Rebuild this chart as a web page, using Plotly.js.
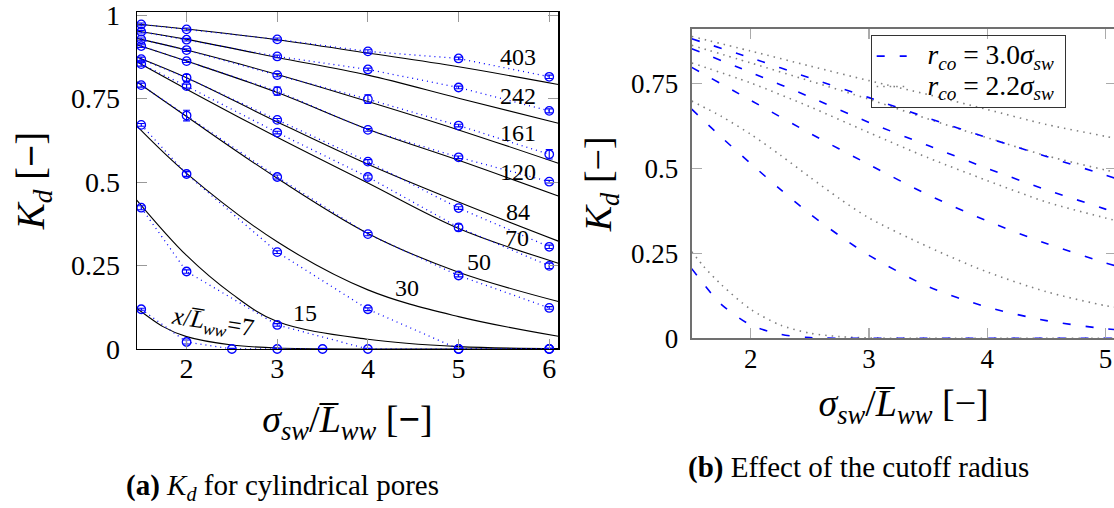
<!DOCTYPE html>
<html>
<head>
<meta charset="utf-8">
<script src="https://cdn.plot.ly/plotly-3.0.1.min.js"></script>
<style>
  html, body { margin: 0; padding: 0; background: #ffffff; overflow: hidden; width: 1114px; height: 508px; }
  #chart { width: 1117px; height: 508px; }
</style>
</head>
<body>
<div id="chart"></div>
<script>
// ---------- Panel (a): K_d for cylindrical pores ----------
const curveLabels = ['403', '242', '161', '120', '84', '70', '50', '30', '15', '7'];

// MD data points (blue circles, dotted)
const sigmaX = [1.5, 2, 3, 4, 5, 6];
const sigmaX7 = [1.5, 2, 2.5, 3, 3.5];
const md403 = [0.972, 0.957, 0.927, 0.891, 0.870, 0.815];
const md242 = [0.950, 0.926, 0.876, 0.837, 0.783, 0.713];
const md161 = [0.927, 0.895, 0.820, 0.748, 0.669, 0.583];
const md120 = [0.907, 0.862, 0.772, 0.656, 0.574, 0.501];
const md84  = [0.868, 0.812, 0.686, 0.561, 0.422, 0.306];
const md70  = [0.853, 0.787, 0.648, 0.515, 0.364, 0.249];
const md50  = [0.790, 0.699, 0.515, 0.344, 0.220, 0.123];
const md30  = [0.671, 0.524, 0.290, 0.119, 0.000, 0.000];
const md15  = [0.423, 0.232, 0.072, 0.000, 0.000, 0.000];
const md7   = [0.119, 0.021, 0.000, 0.000, 0.000];

// error bars of the MD points
const err403 = [0.004, 0.004, 0.004, 0.005, 0.004, 0.005];
const err242 = [0.004, 0.004, 0.004, 0.004, 0.004, 0.006];
const err161 = [0.004, 0.004, 0.005, 0.013, 0.004, 0.014];
const err120 = [0.004, 0.004, 0.012, 0.004, 0.004, 0.004];
const err84  = [0.006, 0.010, 0.004, 0.006, 0.004, 0.005];
const err70  = [0.006, 0.006, 0.004, 0.006, 0.010, 0.008];
const err50  = [0.006, 0.016, 0.006, 0.005, 0.004, 0.004];
const err30  = [0.004, 0.007, 0.004, 0.004, 0.002, 0.002];
const err15  = [0.006, 0.005, 0.004, 0.002, 0.002, 0.002];
const err7   = [0.003, 0.006, 0.002, 0.002, 0.002];

// model curves (black, solid)
const fitX   = [1.45, 2, 3, 4, 5, 6.1];
const fit403 = [0.973, 0.958, 0.926, 0.886, 0.845, 0.792];
const fit242 = [0.952, 0.927, 0.873, 0.820, 0.751, 0.676];
const fit161 = [0.930, 0.895, 0.822, 0.741, 0.656, 0.556];
const fit120 = [0.911, 0.862, 0.768, 0.658, 0.565, 0.458];
const fit84  = [0.874, 0.812, 0.680, 0.553, 0.440, 0.323];
const fit70  = [0.860, 0.778, 0.634, 0.497, 0.361, 0.257];
const fit50  = [0.800, 0.696, 0.511, 0.346, 0.230, 0.142];
const fit30  = [0.668, 0.526, 0.321, 0.177, 0.097, 0.038];
const fitX15 = [1.45, 2, 2.5, 3, 4, 5, 6.1];
const fit15  = [0.446, 0.280, 0.165, 0.082, 0.029, 0.007, 0.001];
const fitX7  = [1.45, 1.74, 2, 2.5, 3, 4, 6.1];
const fit7   = [0.122, 0.067, 0.037, 0.012, 0.003, 0.000, 0.000];

// curve label positions (data coordinates)
const labelX = [5.66, 5.66, 5.66, 5.66, 5.66, 5.64, 5.22, 4.43, 3.31, 2.29];
const labelY = [0.874, 0.758, 0.646, 0.531, 0.411, 0.331, 0.261, 0.182, 0.107, 0.075];

// ---------- Panel (b): effect of the cutoff radius ----------
const cutX = [1.5, 2, 2.5, 3, 3.5, 4, 4.5, 5, 5.1];
const cutXfine = [1.5, 1.75, 2, 2.25, 2.5, 2.75, 3, 3.5, 4, 4.5, 5, 5.1];
// r_co = 3.0 sigma_sw (blue dashed)
const rc30a = [0.881, 0.825, 0.766, 0.708, 0.648, 0.590, 0.535, 0.480, 0.469];
const rc30b = [0.852, 0.782, 0.710, 0.635, 0.567, 0.500, 0.437, 0.380, 0.368];
const rc30c = [0.797, 0.700, 0.603, 0.511, 0.422, 0.345, 0.279, 0.222, 0.212];
const rc30d = [0.674, 0.592, 0.514, 0.438, 0.366, 0.302, 0.244, 0.152, 0.092, 0.052, 0.028, 0.025];
const cutX30e = [1.5, 1.6, 1.75, 2, 2.25, 2.5, 3, 5.1];
const rc30e = [0.205, 0.160, 0.100, 0.039, 0.012, 0.002, 0.000, 0.000];
// r_co = 2.2 sigma_sw (grey dotted)
const rc22a = [0.888, 0.845, 0.801, 0.758, 0.717, 0.673, 0.629, 0.594, 0.587];
const rc22b = [0.862, 0.810, 0.757, 0.703, 0.645, 0.590, 0.537, 0.495, 0.487];
const rc22c = [0.810, 0.751, 0.681, 0.605, 0.531, 0.464, 0.401, 0.354, 0.345];
const rc22d = [0.698, 0.653, 0.600, 0.539, 0.474, 0.411, 0.354, 0.269, 0.195, 0.137, 0.096, 0.091];
const cutX22e = [1.5, 1.6, 1.75, 2, 2.25, 2.5, 2.75, 3, 3.5, 5.1];
const rc22e = [0.255, 0.212, 0.158, 0.085, 0.039, 0.015, 0.005, 0.001, 0.000, 0.000];

const legendNames = ['\u00A0\u00A0\u00A0<span style="font-size:27.5px"><i>r</i><sub><i>co</i></sub> = 3.0<i>σ</i><sub><i>sw</i></sub></span>\u00A0',
                     '\u00A0\u00A0\u00A0<span style="font-size:27.5px"><i>r</i><sub><i>co</i></sub> = 2.2<i>σ</i><sub><i>sw</i></sub></span>\u00A0'];

// ---------- build traces ----------
const FONT = 'Liberation Serif, Times New Roman, serif';
const BLUE = '#0000ff';
const traces = [];

const mdSets = [
  [sigmaX, md403, err403], [sigmaX, md242, err242], [sigmaX, md161, err161],
  [sigmaX, md120, err120], [sigmaX, md84, err84], [sigmaX, md70, err70],
  [sigmaX, md50, err50], [sigmaX, md30, err30], [sigmaX, md15, err15],
  [sigmaX7, md7, err7]
];
const fitSets = [
  [fitX, fit403], [fitX, fit242], [fitX, fit161], [fitX, fit120], [fitX, fit84],
  [fitX, fit70], [fitX, fit50], [fitX, fit30], [fitX15, fit15], [fitX7, fit7]
];

fitSets.forEach(function (s, i) {
  traces.push({
    x: s[0], y: s[1], xaxis: 'x', yaxis: 'y', type: 'scatter', mode: 'lines',
    line: {color: '#000000', width: 1.1, shape: 'spline', smoothing: (i === 9 ? 0.8 : 1.0)},
    showlegend: false, hoverinfo: 'skip', cliponaxis: true
  });
});
mdSets.forEach(function (s) {
  traces.push({
    x: s[0], y: s[1], xaxis: 'x', yaxis: 'y', type: 'scatter', mode: 'lines+markers',
    line: {color: BLUE, width: 1.3, dash: '1px,4px'},
    marker: {symbol: 'circle-open', size: 8.5, color: BLUE, line: {color: BLUE, width: 1.3}},
    error_y: {type: 'data', array: s[2], visible: true, color: BLUE, thickness: 1.1, width: 3.5},
    showlegend: false, cliponaxis: false
  });
});

const dashedSets = [[cutX, rc30a], [cutX, rc30b], [cutX, rc30c], [cutXfine, rc30d], [cutX30e, rc30e]];
const dottedSets = [[cutX, rc22a], [cutX, rc22b], [cutX, rc22c], [cutXfine, rc22d], [cutX22e, rc22e]];

dottedSets.forEach(function (s, i) {
  traces.push({
    x: s[0], y: s[1], xaxis: 'x2', yaxis: 'y2', type: 'scatter', mode: 'lines',
    name: legendNames[1], legendgroup: 'rc22', showlegend: i === 0,
    line: {color: '#808080', width: 1.6, dash: '1.5px,5px', shape: 'spline', smoothing: 0.8}
  });
});
dashedSets.forEach(function (s, i) {
  traces.push({
    x: s[0], y: s[1], xaxis: 'x2', yaxis: 'y2', type: 'scatter', mode: 'lines',
    name: legendNames[0], legendgroup: 'rc30', showlegend: i === 0,
    line: {color: BLUE, width: 1.6, dash: '8px,15px', shape: 'spline', smoothing: 0.8}
  });
});

// ---------- annotations ----------
const annotations = curveLabels.map(function (t, i) {
  const txt = (t === '7') ? '<i>x</i>/<i>L̅</i><sub><i>ww</i></sub>=7' : t;
  return {
    x: labelX[i], y: labelY[i], xref: 'x', yref: 'y', text: txt, showarrow: false,
    font: {family: FONT, size: (t === '7' ? 25 : 24), color: '#000'}, textangle: (t === '7' ? 9 : 0)
  };
});
annotations.push({
  xref: 'paper', yref: 'paper', x: 282 / 1117, y: 1 - 487 / 508, xanchor: 'center', yanchor: 'middle',
  text: '<b>(a)</b> <i>K</i><sub><i>d</i></sub> for cylindrical pores', showarrow: false,
  font: {family: FONT, size: 29, color: '#000'}
});
annotations.push({
  xref: 'paper', yref: 'paper', x: 858 / 1117, y: 1 - 467 / 508, xanchor: 'center', yanchor: 'middle',
  text: '<b>(b)</b> Effect of the cutoff radius', showarrow: false,
  font: {family: FONT, size: 29, color: '#000'}
});

const tickFontA = {family: FONT, size: 28, color: '#000'};
const tickFontB = {family: FONT, size: 27, color: '#000'};

const layout = {
  width: 1117, height: 508,
  margin: {l: 0, r: 0, t: 0, b: 0, pad: 0},
  paper_bgcolor: '#ffffff', plot_bgcolor: 'rgba(0,0,0,0)',
  font: {family: FONT, color: '#000'},
  xaxis: {
    domain: [136.7 / 1117, 558.3 / 1117], range: [1.45, 6.1], anchor: 'y',
    tickvals: [2, 3, 4, 5, 6], ticktext: ['2', '3', '4', '5', '6'],
    ticks: 'inside', ticklen: 10, tickcolor: '#999999', tickwidth: 1,
    showline: true, linecolor: '#000000', linewidth: 1.2, mirror: 'ticks',
    showgrid: false, zeroline: false, tickfont: tickFontA, ticklabelstandoff: -6,
    ticklabeloverflow: 'allow',
    title: {text: '<i>σ</i><sub><i>sw</i></sub>/<i>L̅</i><sub><i>ww</i></sub> [<b>−</b>]', font: {family: FONT, size: 38, color: '#000'}, standoff: 22}
  },
  yaxis: {
    domain: [1 - 349 / 508, 1 - 12 / 508], range: [0, 1.009], anchor: 'x',
    tickvals: [0, 0.25, 0.5, 0.75, 1], ticktext: ['0', '0.25', '0.5', '0.75', '1'],
    ticks: 'inside', ticklen: 10, tickcolor: '#999999', tickwidth: 1,
    showline: true, linecolor: '#000000', linewidth: 1.2, mirror: 'ticks',
    showgrid: false, zeroline: false, tickfont: tickFontA, ticklabelstandoff: 10,
    ticklabeloverflow: 'allow',
    title: {text: '<i>K</i><sub><i>d</i></sub> [<b>−</b>]', font: {family: FONT, size: 39, color: '#000'}, standoff: 14}
  },
  xaxis2: {
    domain: [691.7 / 1117, 1115.5 / 1117], range: [1.5, 5.085], anchor: 'y2',
    tickvals: [2, 3, 4, 5], ticktext: ['2', '3', '4', '5'],
    ticks: 'inside', ticklen: 10, tickcolor: '#aaaaaa', tickwidth: 1.3,
    showline: true, linecolor: '#707070', linewidth: 2, mirror: 'ticks',
    showgrid: false, zeroline: false, tickfont: tickFontB, ticklabelstandoff: -5,
    ticklabeloverflow: 'allow',
    title: {text: '<i>σ</i><sub><i>sw</i></sub>/<i>L̅</i><sub><i>ww</i></sub> [−]', font: {family: FONT, size: 38, color: '#000'}, standoff: 17}
  },
  yaxis2: {
    domain: [1 - 338.3 / 508, 1 - 29.3 / 508], range: [0, 0.909], anchor: 'x2',
    tickvals: [0, 0.25, 0.5, 0.75], ticktext: ['0', '0.25', '0.5', '0.75'],
    ticks: 'inside', ticklen: 10, tickcolor: '#aaaaaa', tickwidth: 1.3,
    showline: true, linecolor: '#707070', linewidth: 2, mirror: 'ticks',
    showgrid: false, zeroline: false, tickfont: tickFontB, ticklabelstandoff: 6,
    ticklabeloverflow: 'allow',
    title: {text: '<i>K</i><sub><i>d</i></sub> [−]', font: {family: FONT, size: 38, color: '#000'}, standoff: 8}
  },
  showlegend: true,
  legend: {
    x: 870.7 / 1117, y: 1 - 35 / 508, xanchor: 'left', yanchor: 'top',
    bgcolor: 'rgba(255,255,255,0)', bordercolor: '#333333', borderwidth: 1,
    font: {family: FONT, size: 21, color: '#000'}, traceorder: 'reversed',
    itemwidth: 30, tracegroupgap: 0
  },
  annotations: annotations
};

Plotly.newPlot('chart', traces, layout, {staticPlot: true, displayModeBar: false});
</script>
</body>
</html>
